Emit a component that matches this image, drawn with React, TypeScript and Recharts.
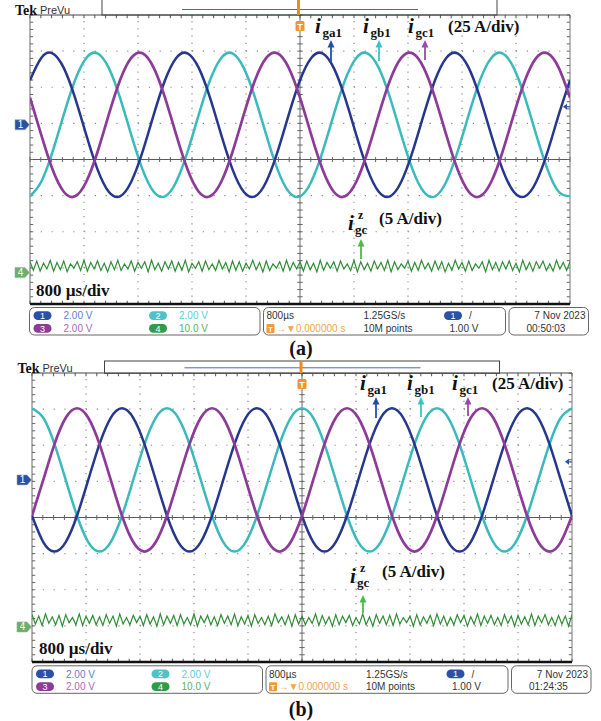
import React from 'react';
import { LineChart, Line, XAxis, YAxis, ReferenceLine, ReferenceDot } from 'recharts';

const SERIF = '"Liberation Serif", "Times New Roman", serif';
const SANS = '"Liberation Sans", Arial, sans-serif';

// screen is 10 div x 800 us, trigger in the middle
const T_MIN = -4000;
const T_MAX = 4000;
const PHASE_STEP = 2000 / 12; // 12 readings per 2 ms period
const ZSEQ_STEP = 50;
const PLOT_W = 540;
const PLOT_H = 289;

// (a) grid currents in A (25 A/div)
const A_IGA = [
  30.8, 46.3, 49.5, 39.4, 18.8, -7.0, -30.8, -46.3, -49.5, -39.4, -18.8, 7.0,
  30.8, 46.3, 49.5, 39.4, 18.8, -7.0, -30.8, -46.3, -49.5, -39.4, -18.8, 7.0,
  30.8, 46.3, 49.5, 39.4, 18.8, -7.0, -30.8, -46.3, -49.5, -39.4, -18.8, 7.0,
  30.8, 46.3, 49.5, 39.4, 18.8, -7.0, -30.8, -46.3, -49.5, -39.4, -18.8, 7.0,
  30.8,
];
const A_IGB = [
  -49.5, -39.4, -18.8, 7.0, 30.8, 46.3, 49.5, 39.4, 18.8, -7.0, -30.8, -46.3,
  -49.5, -39.4, -18.8, 7.0, 30.8, 46.3, 49.5, 39.4, 18.8, -7.0, -30.8, -46.3,
  -49.5, -39.4, -18.8, 7.0, 30.8, 46.3, 49.5, 39.4, 18.8, -7.0, -30.8, -46.3,
  -49.5, -39.4, -18.8, 7.0, 30.8, 46.3, 49.5, 39.4, 18.8, -7.0, -30.8, -46.3,
  -49.5,
];
const A_IGC = [
  18.8, -7.0, -30.8, -46.3, -49.5, -39.4, -18.8, 7.0, 30.8, 46.3, 49.5, 39.4,
  18.8, -7.0, -30.8, -46.3, -49.5, -39.4, -18.8, 7.0, 30.8, 46.3, 49.5, 39.4,
  18.8, -7.0, -30.8, -46.3, -49.5, -39.4, -18.8, 7.0, 30.8, 46.3, 49.5, 39.4,
  18.8, -7.0, -30.8, -46.3, -49.5, -39.4, -18.8, 7.0, 30.8, 46.3, 49.5, 39.4,
  18.8,
];
// (a) zero-sequence current in A (5 A/div)
const A_IZ = [
  1.5, 0.3, 1.6, 0.2, 1.3, 0.5, 1.7, 0.2, 1.4, 0.4, 1.6, 0.1, 1.2, 0.6, 1.5, 0.3, 1.7, 0.2, 1.4, 0.5,
  1.6, 0.3, 1.3, 0.1, 1.5, 0.4, 1.7, 0.3, 1.2, 0.5, 1.6, 0.2, 1.4, 0.6, 1.5, 0.1, 1.7, 0.4, 1.3, 0.2,
  1.5, 0.5, 1.6, 0.2, 1.4, 0.3, 1.7, 0.1, 1.3, 0.6, 1.5, 0.2, 1.6, 0.4, 1.2, 0.3, 1.7, 0.5, 1.4, 0.1,
  1.6, 0.3, 1.5, 0.2, 1.3, 0.5, 1.7, 0.4, 1.4, 0.1, 1.6, 0.3, 1.2, 0.6, 1.5, 0.2, 1.7, 0.3, 1.4, 0.5,
  1.5, 0.2, 1.6, 0.4, 1.3, 0.1, 1.7, 0.3, 1.4, 0.6, 1.5, 0.2, 1.6, 0.5, 1.2, 0.3, 1.7, 0.1, 1.5, 0.4,
  1.3, 0.2, 1.6, 0.5, 1.4, 0.3, 1.7, 0.1, 1.5, 0.4, 1.2, 0.6, 1.6, 0.2, 1.4, 0.3, 1.7, 0.5, 1.3, 0.2,
  1.6, 0.4, 1.5, 0.1, 1.3, 0.3, 1.7, 0.5, 1.4, 0.2, 1.6, 0.3, 1.2, 0.6, 1.5, 0.1, 1.7, 0.4, 1.4, 0.2,
  1.5, 0.5, 1.6, 0.3, 1.3, 0.1, 1.7, 0.4, 1.4, 0.2, 1.5, 0.6, 1.6, 0.3, 1.2, 0.2, 1.7, 0.5, 1.4, 0.3,
  1.5,
];

// (b) grid currents in A
const B_IGA = [
  -24.8, -43.0, -49.6, -43.0, -24.8, 0, 24.8, 43.0, 49.6, 43.0, 24.8, 0,
  -24.8, -43.0, -49.6, -43.0, -24.8, 0, 24.8, 43.0, 49.6, 43.0, 24.8, 0,
  -24.8, -43.0, -49.6, -43.0, -24.8, 0, 24.8, 43.0, 49.6, 43.0, 24.8, 0,
  -24.8, -43.0, -49.6, -43.0, -24.8, 0, 24.8, 43.0, 49.6, 43.0, 24.8, 0,
  -24.8,
];
const B_IGB = [
  49.6, 43.0, 24.8, 0, -24.8, -43.0, -49.6, -43.0, -24.8, 0, 24.8, 43.0,
  49.6, 43.0, 24.8, 0, -24.8, -43.0, -49.6, -43.0, -24.8, 0, 24.8, 43.0,
  49.6, 43.0, 24.8, 0, -24.8, -43.0, -49.6, -43.0, -24.8, 0, 24.8, 43.0,
  49.6, 43.0, 24.8, 0, -24.8, -43.0, -49.6, -43.0, -24.8, 0, 24.8, 43.0,
  49.6,
];
const B_IGC = [
  -24.8, 0, 24.8, 43.0, 49.6, 43.0, 24.8, 0, -24.8, -43.0, -49.6, -43.0,
  -24.8, 0, 24.8, 43.0, 49.6, 43.0, 24.8, 0, -24.8, -43.0, -49.6, -43.0,
  -24.8, 0, 24.8, 43.0, 49.6, 43.0, 24.8, 0, -24.8, -43.0, -49.6, -43.0,
  -24.8, 0, 24.8, 43.0, 49.6, 43.0, 24.8, 0, -24.8, -43.0, -49.6, -43.0,
  -24.8,
];
const B_IZ = [
  1.7, 0.4, 1.5, 0.2, 1.8, 0.5, 1.4, 0.3, 1.6, 0.1, 1.7, 0.6, 1.3, 0.3, 1.8, 0.2, 1.5, 0.5, 1.6, 0.3,
  1.4, 0.2, 1.7, 0.5, 1.5, 0.1, 1.8, 0.4, 1.3, 0.3, 1.6, 0.6, 1.5, 0.2, 1.7, 0.4, 1.4, 0.1, 1.8, 0.3,
  1.5, 0.5, 1.6, 0.2, 1.7, 0.4, 1.3, 0.3, 1.8, 0.1, 1.5, 0.6, 1.6, 0.3, 1.4, 0.2, 1.7, 0.5, 1.5, 0.3,
  1.8, 0.2, 1.4, 0.4, 1.6, 0.1, 1.7, 0.5, 1.3, 0.3, 1.5, 0.2, 1.8, 0.6, 1.4, 0.3, 1.6, 0.1, 1.7, 0.4,
  1.5, 0.3, 1.3, 0.5, 1.8, 0.2, 1.6, 0.4, 1.4, 0.1, 1.7, 0.3, 1.5, 0.6, 1.6, 0.2, 1.3, 0.4, 1.8, 0.3,
  1.4, 0.1, 1.7, 0.5, 1.5, 0.3, 1.6, 0.2, 1.8, 0.4, 1.3, 0.6, 1.5, 0.1, 1.7, 0.3, 1.4, 0.5, 1.6, 0.2,
  1.8, 0.4, 1.5, 0.2, 1.3, 0.3, 1.7, 0.6, 1.6, 0.1, 1.4, 0.4, 1.8, 0.2, 1.5, 0.5, 1.6, 0.3, 1.3, 0.2,
  1.7, 0.5, 1.5, 0.1, 1.6, 0.4, 1.4, 0.3, 1.8, 0.2, 1.5, 0.6, 1.7, 0.3, 1.3, 0.2, 1.6, 0.4, 1.5, 0.1,
  1.7,
];

const MAJOR_X = [-3200, -2400, -1600, -800, 800, 1600, 2400, 3200];
const MAJOR_Y = [-3, -2, -1, 1, 2, 3];
const MINOR_X = Array.from({ length: 51 }, (_, i) => T_MIN + i * 160);
const MINOR_Y = Array.from({ length: 41 }, (_, i) => -4 + i * 0.2);

const CH_INFO = [
  { n: '1', v: '2.00 V', row: 0, col: 0 },
  { n: '2', v: '2.00 V', row: 0, col: 1 },
  { n: '3', v: '2.00 V', row: 1, col: 0 },
  { n: '4', v: '10.0 V', row: 1, col: 1 },
];
const CH_OVAL = ['#2b50a6', '#4fc2c8', '#8c3b97', '#2f9d48'];
const CH_TEXT = ['#5a7fd0', '#66cbcf', '#a86cba', '#55b55d'];

const C_A = '#27378e';
const C_B = '#3bbabd';
const C_C = '#8d3b98';
const C_Z = '#2f8d36';

type Panel = {
  plotX: number; plotY: number; dx: number; dy: number;
  ia: number[]; ib: number[]; ic: number[]; iz: number[];
  phDomain: [number, number]; zDomain: [number, number];
  stamp: string; caption: string; capY: number; barTop: number;
  sub: number[]; subY: number; div25: number; arrowX: number[]; arrowTip: number; arrowTail: number;
  zx: number; zy: number; div5: number; zArrowX: number; zArrowTip: number; zArrowTail: number;
  timeX: number; timeY: number;
};

const PANEL_A: Panel = {
  plotX: 30, plotY: 15, dx: 0, dy: 0,
  ia: A_IGA, ib: A_IGB, ic: A_IGC, iz: A_IZ,
  phDomain: [-124, 76], zDomain: [-4.35, 35.65],
  stamp: '00:50:03', caption: '(a)', capY: 355, barTop: -2,
  sub: [315, 363, 408], subY: 33, div25: 448, arrowX: [331, 379, 425], arrowTip: 40, arrowTail: 62,
  zx: 348, zy: 230, div5: 379, zArrowX: 361, zArrowTip: 239, zArrowTail: 259,
  timeX: 36, timeY: 296,
};

const PANEL_B: Panel = {
  plotX: 32, plotY: 373, dx: 2.5, dy: 358.3,
  ia: B_IGA, ib: B_IGB, ic: B_IGC, iz: B_IZ,
  phDomain: [-126, 74], zDomain: [-4.85, 35.15],
  stamp: '01:24:35', caption: '(b)', capY: 716, barTop: 2.7,
  sub: [360, 407, 452], subY: 390, div25: 492, arrowX: [376, 421, 468], arrowTip: 397, arrowTail: 418,
  zx: 350, zy: 583, div5: 382, zArrowX: 363, zArrowTip: 595, zArrowTail: 613,
  timeX: 39, timeY: 654,
};

function ChMarker({ cx, cy, n, fill }: any) {
  return (
    <g>
      <path d={`M${cx - 15},${cy - 5} h10 l4.5,5 l-4.5,5 h-10 z`} fill={fill} stroke="#9aa" strokeWidth={0.6} />
      <text x={cx - 9.5} y={cy + 3.5} fill="#fff" fontSize={10} fontFamily={SANS} textAnchor="middle">{n}</text>
    </g>
  );
}

function Scope({ p }: { p: Panel }) {
  const phase = p.ia.map((v, i) => ({ t: T_MIN + i * PHASE_STEP, ia: v, ib: p.ib[i], ic: p.ic[i] }));
  const zseq = p.iz.map((v, i) => ({ t: T_MIN + i * ZSEQ_STEP, iz: v }));
  const m = { top: 4, right: 10, bottom: 4, left: 22 };
  const ref = { xAxisId: 't', yAxisId: 'div' };
  return (
    <div style={{ position: 'absolute', left: p.plotX - m.left, top: p.plotY - m.top }}>
      <LineChart width={PLOT_W + m.left + m.right} height={PLOT_H + m.top + m.bottom} margin={m}>
        <XAxis xAxisId="t" type="number" dataKey="t" domain={[T_MIN, T_MAX]} allowDataOverflow hide />
        <YAxis yAxisId="div" type="number" domain={[-4, 4]} allowDataOverflow hide />
        <YAxis yAxisId="ph" type="number" hide domain={p.phDomain} allowDataOverflow />
        <YAxis yAxisId="z" type="number" hide domain={p.zDomain} allowDataOverflow />

        {/* graticule */}
        {MAJOR_X.map(x => (
          <ReferenceLine key={'gx' + x} {...ref} x={x} stroke="#8c8c8c" strokeWidth={1.2} strokeDasharray="1.2 6.025" />
        ))}
        {MAJOR_Y.map(y => (
          <ReferenceLine key={'gy' + y} {...ref} y={y} stroke="#8c8c8c" strokeWidth={1.2} strokeDasharray="1.2 9.6" />
        ))}
        <ReferenceLine {...ref} x={0} stroke="#6a6a6a" />
        <ReferenceLine {...ref} y={0} stroke="#5a5a5a" />
        {MINOR_X.map(x => (
          <ReferenceLine key={'cx' + x} {...ref} stroke="#666" segment={[{ x, y: -0.07 }, { x, y: 0.07 }]} />
        ))}
        {MINOR_Y.map(y => (
          <ReferenceLine key={'cy' + y} {...ref} stroke="#666" segment={[{ x: -40, y }, { x: 40, y }]} />
        ))}
        {MINOR_X.map(x => (
          <ReferenceLine key={'tx' + x} {...ref} stroke="#555" segment={[{ x, y: 4 }, { x, y: 3.91 }]} />
        ))}
        {MINOR_X.map(x => (
          <ReferenceLine key={'bx' + x} {...ref} stroke="#555" segment={[{ x, y: -4 }, { x, y: -3.91 }]} />
        ))}
        {MINOR_Y.map(y => (
          <ReferenceLine key={'ly' + y} {...ref} stroke="#666" segment={[{ x: T_MIN, y }, { x: T_MIN + 48, y }]} />
        ))}
        {MINOR_Y.map(y => (
          <ReferenceLine key={'ry' + y} {...ref} stroke="#666" segment={[{ x: T_MAX - 48, y }, { x: T_MAX, y }]} />
        ))}
        <ReferenceLine {...ref} x={T_MIN} stroke="#666" />
        <ReferenceLine {...ref} x={T_MAX} stroke="#777" />
        <ReferenceLine {...ref} y={4} stroke="#444" />
        <ReferenceLine {...ref} y={-4} stroke="#111" strokeWidth={2.5} />

        <Line xAxisId="t" yAxisId="z" data={zseq} dataKey="iz" type="linear" stroke={C_Z} strokeWidth={1.2} dot={false} isAnimationActive={false} />
        <Line xAxisId="t" yAxisId="ph" data={phase} dataKey="ib" type="natural" stroke={C_B} strokeWidth={2.5} dot={false} isAnimationActive={false} />
        <Line xAxisId="t" yAxisId="ph" data={phase} dataKey="ia" type="natural" stroke={C_A} strokeWidth={2.5} dot={false} isAnimationActive={false} />
        <Line xAxisId="t" yAxisId="ph" data={phase} dataKey="ic" type="natural" stroke={C_C} strokeWidth={2.7} dot={false} isAnimationActive={false} />

        {/* channel ground markers and trigger level / position */}
        <ReferenceDot xAxisId="t" yAxisId="ph" x={T_MIN} y={0} ifOverflow="visible"
          shape={(s: any) => <ChMarker cx={s.cx} cy={s.cy} n="1" fill="#2b50a6" />} />
        <ReferenceDot xAxisId="t" yAxisId="z" x={T_MIN} y={0} ifOverflow="visible"
          shape={(s: any) => <ChMarker cx={s.cx} cy={s.cy} n="4" fill="#6cae6c" />} />
        <ReferenceDot xAxisId="t" yAxisId="ph" x={T_MAX} y={12.5} ifOverflow="visible"
          shape={(s: any) => (
            <g>
              <path d={`M${s.cx - 7},${s.cy} l4,-3 v6 z`} fill="#2b50a6" />
              <line x1={s.cx - 3} y1={s.cy} x2={s.cx} y2={s.cy} stroke="#2b50a6" strokeWidth={1.2} />
            </g>
          )} />
        <ReferenceDot xAxisId="t" yAxisId="div" x={0} y={4} ifOverflow="visible"
          shape={(s: any) => (
            <g>
              <rect x={s.cx - 4.5} y={s.cy + 6} width={9} height={10} rx={1.5} fill="#f29530" />
              <text x={s.cx} y={s.cy + 14.5} fontSize={9} fontWeight="bold" fill="#fff" textAnchor="middle" fontFamily={SANS}>T</text>
            </g>
          )} />
      </LineChart>
    </div>
  );
}

function Arrow({ x, tip, tail, color }: { x: number; tip: number; tail: number; color: string }) {
  return (
    <g>
      <line x1={x} y1={tip + 6} x2={x} y2={tail} stroke={color} strokeWidth={1.8} />
      <path d={`M${x - 3.5},${tip + 7.5} L${x},${tip} L${x + 3.5},${tip + 7.5} Z`} fill={color} />
    </g>
  );
}

function Chrome({ p }: { p: Panel }) {
  const subs = ['ga1', 'gb1', 'gc1'];
  const arrowCols = ['#2550a8', '#3cc4c4', '#9a4aa8'];
  return (
    <g>
      {/* scope header and status bar, laid out in panel (a) coordinates */}
      <g transform={`translate(${p.dx},${p.dy})`}>
        <text x={15} y={14.5} fontFamily={SERIF} fontWeight="bold" fontSize={14} fill="#111">Tek</text>
        <text x={40} y={14} fontFamily={SANS} fontSize={11} fill="#333">PreVu</text>
        <rect x={102} y={p.barTop} width={395} height={15 - p.barTop} fill="none" stroke="#444" strokeWidth={1} />
        <line x1={182} y1={9.5} x2={418} y2={9.5} stroke="#4a68b0" strokeWidth={1} />
        <line x1={298.5} y1={Math.max(p.barTop, 0)} x2={298.5} y2={15} stroke="#f08a1c" strokeWidth={3} />

        <g fontFamily={SANS} fontSize={10}>
          <rect x={29.5} y={307.5} width={230.5} height={27.5} rx={5} fill="none" stroke="#666" />
          <rect x={263.5} y={307.5} width={242} height={27.5} rx={5} fill="none" stroke="#666" />
          <rect x={509} y={307.5} width={79.5} height={27.5} rx={5} fill="none" stroke="#666" />
          {CH_INFO.map((c, i) => {
            const cx = c.col === 0 ? 42.5 : 158;
            const cy = c.row === 0 ? 315.6 : 328.4;
            return (
              <g key={c.n}>
                <rect x={cx - 9} y={cy - 4.4} width={18} height={8.8} rx={4.4} fill={CH_OVAL[i]} />
                <text x={cx} y={cy + 3.4} fill="#fff" fontSize={9} textAnchor="middle">{c.n}</text>
                <text x={c.col === 0 ? 63.5 : 179} y={cy + 3.7} fill={CH_TEXT[i]}>{c.v}</text>
              </g>
            );
          })}
          <text x={266.5} y={319.3} fill="#333">800µs</text>
          <rect x={266.5} y={324} width={8} height={9} rx={1} fill="#f39a2e" />
          <text x={270.5} y={331.6} fill="#fff" fontSize={8} fontWeight="bold" textAnchor="middle">T</text>
          <text x={276} y={332} fill="#f5a54a">→▼0.000000 s</text>
          <text x={363.5} y={319.3} fill="#333">1.25GS/s</text>
          <text x={363.5} y={332} fill="#333">10M points</text>
          <rect x={444} y={311.2} width={18} height={8.8} rx={4.4} fill="#2b50a6" />
          <text x={453} y={319} fill="#fff" fontSize={9} textAnchor="middle">1</text>
          <text x={469} y={319.3} fill="#333">/</text>
          <text x={449.5} y={332} fill="#333">1.00 V</text>
          <text x={585.5} y={319.3} fill="#333" textAnchor="end">7 Nov  2023</text>
          <text x={526.5} y={332} fill="#333">{p.stamp}</text>
        </g>
      </g>

      {/* annotations */}
      <g fontFamily={SERIF} fontWeight="bold" fill="#111">
        {p.sub.map((x, i) => (
          <g key={subs[i]}>
            <text x={x} y={p.subY} fontSize={21} fontStyle="italic">i</text>
            <text x={x + 7.5} y={p.subY + 3.5} fontSize={13}>{subs[i]}</text>
          </g>
        ))}
        <text x={p.div25} y={p.subY - 1} fontSize={17}>(25 A/div)</text>
        <text x={p.zx} y={p.zy} fontSize={21} fontStyle="italic">i</text>
        <text x={p.zx + 10} y={p.zy - 11} fontSize={12}>z</text>
        <text x={p.zx + 7} y={p.zy + 4} fontSize={13}>gc</text>
        <text x={p.div5} y={p.zy - 6} fontSize={17}>(5 A/div)</text>
        <text x={p.timeX} y={p.timeY} fontSize={17}>800 µs/div</text>
        <text x={301} y={p.capY} fontSize={20} textAnchor="middle">{p.caption}</text>
      </g>
      {p.arrowX.map((x, i) => (
        <Arrow key={i} x={x} tip={p.arrowTip} tail={p.arrowTail - i} color={arrowCols[i]} />
      ))}
      <Arrow x={p.zArrowX} tip={p.zArrowTip} tail={p.zArrowTail} color="#4cbb4c" />
    </g>
  );
}

export default function App() {
  return (
    <div style={{ position: 'absolute', left: 0, top: 0, width: 601, height: 721, background: '#fff', overflow: 'hidden' }}>
      <Scope p={PANEL_A} />
      <Scope p={PANEL_B} />
      <svg width={601} height={721} style={{ position: 'absolute', left: 0, top: 0, pointerEvents: 'none' }}>
        <Chrome p={PANEL_A} />
        <Chrome p={PANEL_B} />
      </svg>
    </div>
  );
}
